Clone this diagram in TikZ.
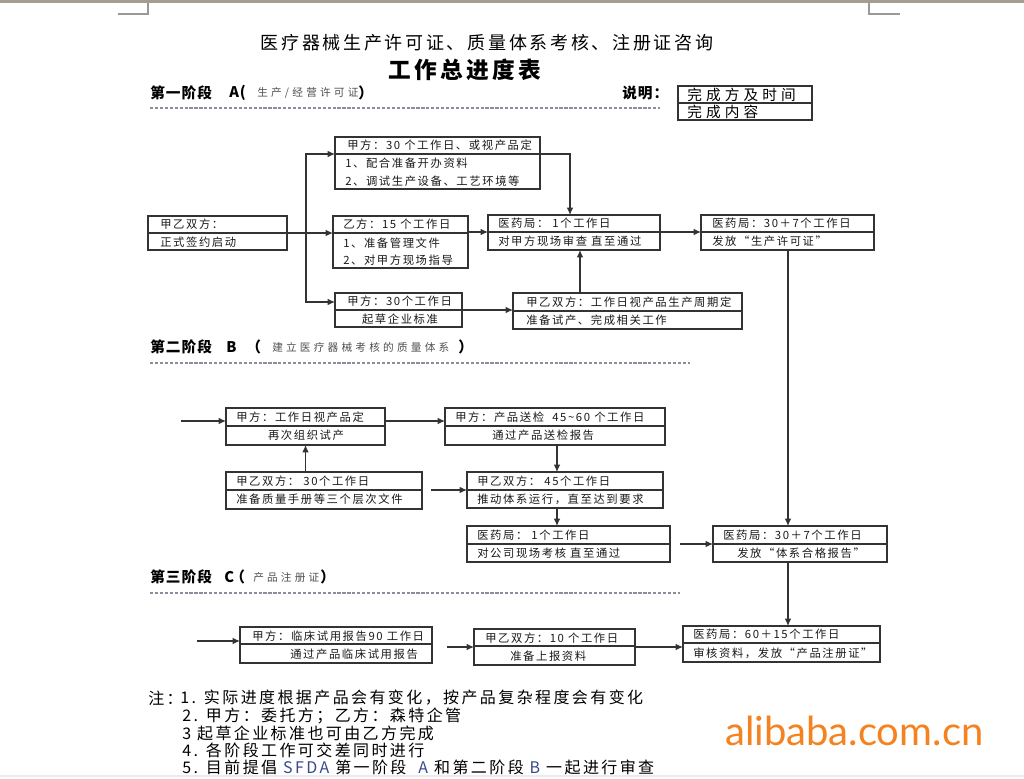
\documentclass[tikz,border=0pt]{standalone}
\usepackage{fontspec}
\setmainfont{Noto Sans CJK SC}
\newfontfamily\bxf[LetterSpace=14]{Noto Sans CJK SC}
\newfontfamily\ttlf[LetterSpace=15]{Noto Sans CJK SC}
\newfontfamily\hdf[LetterSpace=7]{Noto Sans CJK SC}
\newfontfamily\smf[LetterSpace=30]{Noto Sans CJK SC}
\newfontfamily\ntf[LetterSpace=15]{Noto Sans CJK SC}
\newfontfamily\lgf[LetterSpace=28]{Noto Sans CJK SC}
\newfontfamily\wmf{Lato}
\usetikzlibrary{arrows.meta}
\definecolor{ln}{HTML}{333333}
\definecolor{tx}{HTML}{1A1A1A}
\definecolor{ast}{HTML}{8C8C9C}
\definecolor{orng}{HTML}{F5821F}
\definecolor{topbar}{HTML}{A39E8E}
\definecolor{sfda}{HTML}{3A4A8A}
\definecolor{smgray}{HTML}{505050}
\newcommand\bxx[6]{%
  \node[bx, anchor=north west, minimum width={(#4-#2)*0.75pt}, minimum height={(#5-#3)*0.75pt}] (#1) at (#2,#3) {};
  \draw[bxl] (#2,#6) -- (#4,#6);
  \coordinate (#1d) at (#2,#6);
}
\begin{document}
\begin{tikzpicture}[x=0.75pt,y=-0.75pt,
  bx/.style={draw=ln, line width=0.9pt, inner sep=0pt, outer sep=0pt, rectangle},
  bxl/.style={draw=ln, line width=0.9pt},
  arr/.style={draw=ln, line width=0.9pt, -{Latex[length=5.5pt,width=5pt]}},
  lnk/.style={draw=ln, line width=0.9pt},
  t/.style={anchor=west, inner sep=0pt, text=tx, font=\bxf\fontsize{8.5}{10}\selectfont},
  tc/.style={t, anchor=center},
  hd/.style={anchor=west, inner sep=0pt, text=black, font=\hdf\bfseries\fontsize{11}{13}\selectfont},
  sm/.style={anchor=west, inner sep=0pt, text=smgray, font=\smf\fontsize{8}{9}\selectfont},
  nt/.style={anchor=west, inner sep=0pt, text=black, font=\ntf\fontsize{12}{13}\selectfont},
  lg/.style={anchor=west, inner sep=0pt, text=black, font=\lgf\fontsize{11}{12}\selectfont},
  astl/.style={draw=ast, line width=2.2pt, dash pattern=on 2.4pt off 1.3pt},
  cornm/.style={draw=gray!80, line width=0.8pt}]
\useasboundingbox (0,0) rectangle (1024,778);
\fill[white] (0,0) rectangle (1024,778);
\fill[topbar] (0,0) rectangle (1024,3);
\draw[cornm] (148,3) -- (148,14) -- (118,14);
\draw[cornm] (869,3) -- (869,14) -- (900,14);
\draw[draw=black!8, line width=1pt] (0,776) -- (1024,776);

% titles
\node[inner sep=0pt, font=\ttlf\fontsize{13.5}{15}\selectfont] (t1) at (487,43) {医疗器械生产许可证、质量体系考核、注册证咨询};
\node[inner sep=0pt, font=\ttlf\bfseries\fontsize{17}{19}\selectfont] (t2) at (465,70) {工作总进度表};

% stage A header
\node[hd] (hA) at (150,93) {第一阶段};
\node[hd] (hA2) at (229,93) {A(};
\node[sm] (hA3) at (257,93) {生产/经营许可证};
\node[hd] (hA4) at (358,93) {）};
\draw[astl] (150,108) -- (660,108);
\node[hd] (shm) at (622,93) {说明：};
\bxx{L}{678}{86}{812}{120}{103}
\node[lg] (L1) at (687,94.5) {完成方及时间};
\node[lg] (L2) at (687,111.5) {完成内容};

% stage A boxes
\bxx{S}{148}{216}{287}{250}{233}
\node[t] (S1) at (160,224.5) {甲乙双方：};
\node[t] (S2) at (160,242) {正式签约启动};

\bxx{A1}{335}{137}{540}{189}{154}
\node[t] (A1a) at (347,145.5) {甲方：30 个工作日、或视产品定};
\node[t] (A1b) at (345,163.5) {1、配合准备开办资料};
\node[t] (A1c) at (345,181) {2、调试生产设备、工艺环境等};

\bxx{A2}{333}{216}{468}{268}{233}
\node[t] (A2a) at (343,224.5) {乙方：15 个工作日};
\node[t] (A2b) at (343,243) {1、准备管理文件};
\node[t] (A2c) at (343,260.5) {2、对甲方现场指导};

\bxx{A3}{335}{293}{462}{327}{310}
\node[t] (A3a) at (347,301.5) {甲方：30个工作日};
\node[tc] (A3b) at (400,319) {起草企业标准};

\bxx{A4}{488}{215}{660}{250}{232}
\node[t] (A4a) at (498,223.5) {医药局：\ 1个工作日};
\node[t] (A4b) at (498,241.5) {对甲方现场审查 直至通过};

\bxx{A5}{513}{293}{742}{329}{311}
\node[t] (A5a) at (526,302) {甲乙双方：工作日视产品生产周期定};
\node[t] (A5b) at (526,320) {准备试产、完成相关工作};

\bxx{A6}{701}{215}{874}{250}{232}
\node[t] (A6a) at (712,223.5) {医药局：30＋7个工作日};
\node[t] (A6b) at (712,241.5) {发放“生产许可证”};

% stage B header
\node[hd] (hB) at (150,347) {第二阶段};
\node[hd] (hB2) at (226,347) {B};
\node[hd] (hB3) at (246,347) {（};
\node[sm] (hB4) at (272,347) {建立医疗器械考核的质量体系};
\node[hd] (hB5) at (458,347) {）};
\draw[astl] (150,363) -- (690,363);

% stage B boxes
\bxx{B1}{226}{408}{385}{445}{426}
\node[t] (B1a) at (236,417) {甲方：工作日视产品定};
\node[tc] (B1b) at (306,435.5) {再次组织试产};

\bxx{B2}{445}{408}{665}{445}{426}
\node[t] (B2a) at (455,417) {甲方：产品送检\ \ 45\textasciitilde 60 个工作日};
\node[t] (B2b) at (492,435.5) {通过产品送检报告};

\bxx{B3}{226}{472}{422}{509}{490}
\node[t] (B3a) at (236,481) {甲乙双方：\ 30个工作日};
\node[t] (B3b) at (236,499.5) {准备质量手册等三个层次文件};

\bxx{B4}{467}{472}{663}{508}{490}
\node[t] (B4a) at (477,481) {甲乙双方：\ 45个工作日};
\node[t] (B4b) at (477,499) {推动体系运行，直至达到要求};

\bxx{B5}{467}{526}{670}{562}{544}
\node[t] (B5a) at (477,535) {医药局：\ 1个工作日};
\node[t] (B5b) at (477,553) {对公司现场考核 直至通过};

\bxx{B6}{713}{526}{887}{562}{544}
\node[t] (B6a) at (723,535) {医药局：30＋7个工作日};
\node[t] (B6b) at (737,553) {发放“体系合格报告”};

% stage C header
\node[hd] (hC) at (150,577) {第三阶段};
\node[hd] (hC2) at (224,577) {C};
\node[hd] (hC3) at (230,577) {（};
\node[sm] (hC4) at (253,577) {产品注册证};
\node[hd] (hC5) at (320,577) {）};
\draw[astl] (150,593) -- (680,593);

% stage C boxes
\bxx{C1}{240}{627}{432}{663}{644}
\node[t] (C1a) at (252,636) {甲方：临床试用报告90 工作日};
\node[t] (C1b) at (290,654) {通过产品临床试用报告};

\bxx{C2}{474}{629}{635}{665}{646}
\node[t] (C2a) at (485,638) {甲乙双方：10 个工作日};
\node[t] (C2b) at (510,656.5) {准备上报资料};

\bxx{C3}{683}{626}{880}{662}{643}
\node[t] (C3a) at (693,634.5) {医药局：60＋15个工作日};
\node[t] (C3b) at (693,653) {审核资料，发放“产品注册证”};

% helper coordinates
\coordinate (tr) at (306,233);
\coordinate (y302) at (0,302);
\coordinate (x570) at (570,0);
\coordinate (x580) at (580,0);
\coordinate (x788) at (788,0);
\coordinate (x557) at (557,0);
\coordinate (inB) at (181,421);
\coordinate (inB4) at (431,490);
\coordinate (inB6) at (680,544);
\coordinate (inC) at (197,641);
\coordinate (inC2) at (447,647);

% stage A connectors
\draw[arr] (S.east) -- (S.east -| A2.west);
\draw[arr] (tr) |- (A1.west |- A1d);
\draw[arr] (tr) |- (A3.west |- y302);
\draw[arr] (A1.east |- A1d) -| (A4.north -| x570);
\draw[arr] (A2.east |- A4d) -- (A4.west |- A4d);
\draw[arr] (A3.east |- A3d) -- (A5.west |- A3d);
\draw[arr] (A5.north -| x580) -- (A4.south -| x580);
\draw[arr] (A4.east |- A4d) -- (A6.west |- A4d);
\draw[arr] (A6.south -| x788) -- (B6.north -| x788);

% stage B connectors
\draw[arr] (inB) -- (inB -| B1.west);
\draw[arr] (B1.east |- inB) -- (B2.west |- inB);
\draw[arr] (B3.north -| B1.south) -- (B1.south);
\draw[arr] (inB4) -- (inB4 -| B4.west);
\draw[arr] (B2.south -| x557) -- (B4.north -| x557);
\draw[arr] (B4.south -| x557) -- (B5.north -| x557);
\draw[arr] (inB6) -- (inB6 -| B6.west);
\draw[arr] (B6.south -| x788) -- (C3.north -| x788);

% stage C connectors
\draw[arr] (inC) -- (inC -| C1.west);
\draw[arr] (inC2) -- (inC2 -| C2.west);
\draw[arr] (C2.east |- inC2) -- (C3.west |- inC2);

% notes
\node[nt] (n0) at (148,698) {注：};
\node[nt] (n1) at (180,698) {1. 实际进度根据产品会有变化，按产品复杂程度会有变化};
\node[nt] (n2) at (182,715.5) {2. 甲方：委托方；乙方：森特企管};
\node[nt] (n3) at (182,733) {3\ 起草企业标准也可由乙方完成};
\node[nt] (n4) at (182,750) {4. 各阶段工作可交差同时进行};
\node[nt] (n5) at (182,767) {5. 目前提倡 {\color{sfda}SFDA} 第一阶段\ \ {\color{sfda}A} 和第二阶段 {\color{sfda}B} 一起进行审查};

% watermark
\node[anchor=west, inner sep=0pt, font=\wmf\fontsize{30}{32}\selectfont, text=orng] (wm) at (725,731) {alibaba.com.cn};
\end{tikzpicture}
\end{document}
